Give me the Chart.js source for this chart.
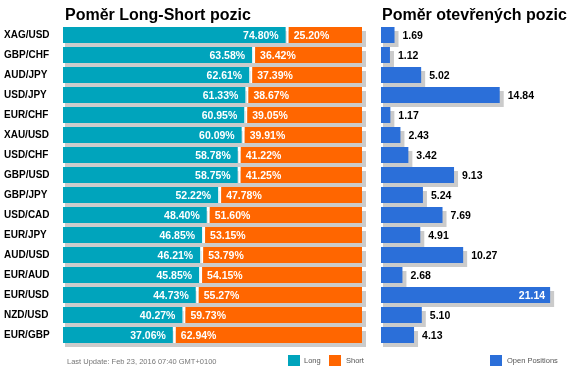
<!DOCTYPE html>
<html>
<head>
<meta charset="utf-8">
<script src="https://cdn.jsdelivr.net/npm/chart.js@4/dist/chart.umd.min.js"></script>
<style>
  html, body { margin: 0; padding: 0; background: #fff; }
  body { width: 569px; height: 372px; position: relative; overflow: hidden; font-family: "Liberation Sans", Arial, sans-serif; }
  canvas { position: absolute; top: 0; }
  #c1 { left: 0; }
  #c2 { left: 375px; }
  .title { position: absolute; top: 6px; font-weight: bold; font-size: 16px; line-height: 17px; color: #000; white-space: nowrap; }
  .small { position: absolute; font-size: 7.5px; line-height: 8px; white-space: nowrap; }
  .sq { position: absolute; width: 12px; height: 11px; top: 355px; }
</style>
</head>
<body>
<canvas id="c1" width="375" height="372"></canvas>
<canvas id="c2" width="194" height="372"></canvas>
<div class="title" style="left:65px">Poměr Long-Short pozic</div>
<div class="title" style="left:382px">Poměr otevřených pozic</div>
<div class="small" style="left:67px; top:358px; color:#777">Last Update: Feb 23, 2016 07:40 GMT+0100</div>
<div class="sq" style="left:288px; background:#00A4BC"></div>
<div class="small" style="left:304px; top:357px; color:#555">Long</div>
<div class="sq" style="left:329px; background:#FF6600"></div>
<div class="small" style="left:346px; top:357px; color:#555">Short</div>
<div class="sq" style="left:490px; background:#2B6FD9"></div>
<div class="small" style="left:507px; top:357px; color:#555">Open Positions</div>
<script>
const categories = ["XAG/USD","GBP/CHF","AUD/JPY","USD/JPY","EUR/CHF","XAU/USD","USD/CHF","GBP/USD","GBP/JPY","USD/CAD","EUR/JPY","AUD/USD","EUR/AUD","EUR/USD","NZD/USD","EUR/GBP"];
const longPct  = [74.80,63.58,62.61,61.33,60.95,60.09,58.78,58.75,52.22,48.40,46.85,46.21,45.85,44.73,40.27,37.06];
const shortPct = [25.20,36.42,37.39,38.67,39.05,39.91,41.22,41.25,47.78,51.60,53.15,53.79,54.15,55.27,59.73,62.94];
const openPositions = [1.69,1.12,5.02,14.84,1.17,2.43,3.42,9.13,5.24,7.69,4.91,10.27,2.68,21.14,5.10,4.13];

const TEAL = "#00A4BC", ORANGE = "#FF6600", BLUE = "#2B6FD9", SHADOW = "#CBCBCB";
const VAL_FONT = "bold 10.5px 'Liberation Sans', Arial, sans-serif";

// shadow under each row: from first dataset base to last dataset end
const shadowPlugin = {
  id: "shadow",
  beforeDatasetsDraw(chart) {
    const ctx = chart.ctx;
    const metas = chart.getSortedVisibleDatasetMetas();
    const first = metas[0], last = metas[metas.length - 1];
    ctx.save();
    ctx.fillStyle = SHADOW;
    first.data.forEach((el, i) => {
      const endEl = last.data[i];
      const base = el.base, end = endEl.x, h = el.height;
      ctx.fillRect(base + 2, el.y - h / 2 + 4, end - base + 2, h);
    });
    ctx.restore();
  }
};

const pctLabels = {
  id: "pctLabels",
  afterDatasetsDraw(chart) {
    const ctx = chart.ctx;
    ctx.save();
    ctx.font = VAL_FONT;
    ctx.fillStyle = "#fff";
    ctx.textBaseline = "middle";
    const m0 = chart.getDatasetMeta(0), m1 = chart.getDatasetMeta(1);
    m0.data.forEach((el, i) => {
      ctx.textAlign = "right";
      ctx.fillText(longPct[i].toFixed(2) + "%", el.x - 8, el.y + 1);
    });
    m1.data.forEach((el, i) => {
      ctx.textAlign = "left";
      ctx.fillText(shortPct[i].toFixed(2) + "%", el.base + 7, el.y + 1);
    });
    ctx.restore();
  }
};

const openLabels = {
  id: "openLabels",
  afterDatasetsDraw(chart) {
    const ctx = chart.ctx;
    ctx.save();
    ctx.font = VAL_FONT;
    ctx.textBaseline = "middle";
    const m = chart.getDatasetMeta(0);
    m.data.forEach((el, i) => {
      const t = openPositions[i].toFixed(2);
      const w = ctx.measureText(t).width;
      if (el.x + 6 + w > chart.width - 2) {
        ctx.fillStyle = "#fff";
        ctx.textAlign = "right";
        ctx.fillText(t, el.x - 5, el.y + 1);
      } else {
        ctx.fillStyle = "#000";
        ctx.textAlign = "left";
        ctx.fillText(t, el.x + 8, el.y + 1);
      }
    });
    ctx.restore();
  }
};

new Chart(document.getElementById("c1"), {
  type: "bar",
  data: {
    labels: categories,
    datasets: [
      { label: "Long", data: longPct, backgroundColor: TEAL, borderColor: "#fff",
        borderWidth: { top: 0, bottom: 0, left: 0, right: 1 }, borderSkipped: false, inflateAmount: 0, barThickness: 16 },
      { label: "Short", data: shortPct, backgroundColor: ORANGE, borderColor: "#fff",
        borderWidth: { top: 0, bottom: 0, left: 2, right: 0 }, borderSkipped: false, inflateAmount: 0, barThickness: 16 }
    ]
  },
  options: {
    indexAxis: "y",
    responsive: false,
    animation: false,
    layout: { padding: { left: 4, right: 13, top: 25, bottom: 27 } },
    plugins: { legend: { display: false }, tooltip: { enabled: false }, title: { display: false } },
    scales: {
      x: { display: false, stacked: true, min: 0, max: 100 },
      y: {
        stacked: true,
        grid: { display: false }, border: { display: false },
        afterFit(scale) { scale.width = 59; },
        ticks: { crossAlign: "far", color: "#000", font: { family: "'Liberation Sans', Arial, sans-serif", size: 10, weight: "bold" }, padding: 0 }
      }
    }
  },
  plugins: [shadowPlugin, pctLabels]
});

new Chart(document.getElementById("c2"), {
  type: "bar",
  data: {
    labels: categories,
    datasets: [
      { label: "Open Positions", data: openPositions, backgroundColor: BLUE, borderWidth: 0, inflateAmount: 0, barThickness: 16 }
    ]
  },
  options: {
    indexAxis: "y",
    responsive: false,
    animation: false,
    layout: { padding: { left: 6, right: 4, top: 25, bottom: 27 } },
    plugins: { legend: { display: false }, tooltip: { enabled: false } },
    scales: {
      x: { display: false, min: 0, max: 23 },
      y: { display: false }
    }
  },
  plugins: [shadowPlugin, openLabels]
});
</script>
</body>
</html>
